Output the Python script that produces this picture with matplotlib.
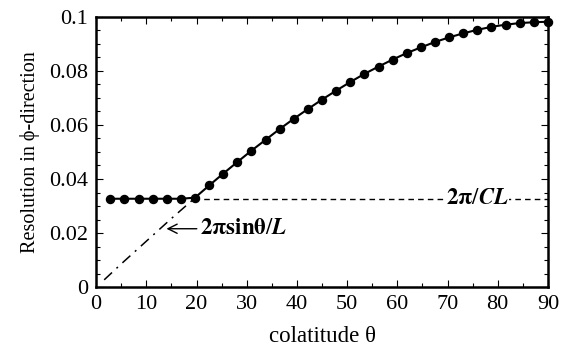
import numpy as np
import matplotlib
matplotlib.use("Agg")
import matplotlib.pyplot as plt
from matplotlib.ticker import MultipleLocator

plt.rcParams["font.family"] = ["Liberation Serif", "DejaVu Serif"]
plt.rcParams["mathtext.fontset"] = "stix"

# resolution in phi-direction vs colatitude (dots + solid line)
theta = [2.81, 5.63, 8.44, 11.25, 14.06, 16.88, 19.69, 22.5, 25.31, 28.13,
         30.94, 33.75, 36.56, 39.38, 42.19, 45.0, 47.81, 50.63, 53.44, 56.25,
         59.06, 61.88, 64.69, 67.5, 70.31, 73.13, 75.94, 78.75, 81.56, 84.38,
         87.19, 90.0]
resolution = [0.0327, 0.0327, 0.0327, 0.0327, 0.0327, 0.0327, 0.0331, 0.0376,
              0.0420, 0.0463, 0.0505, 0.0545, 0.0585, 0.0623, 0.0659, 0.0694,
              0.0727, 0.0759, 0.0789, 0.0816, 0.0842, 0.0866, 0.0887, 0.0907,
              0.0924, 0.0939, 0.0952, 0.0963, 0.0971, 0.0977, 0.0980, 0.0982]

# 2*pi*sin(theta)/L guide (dash-dot)
sin_theta = [1.6, 5.0, 10.0, 15.0, 19.5]
sin_res = [0.0027, 0.0086, 0.0170, 0.0254, 0.0327]

# 2*pi/CL level (dashed)
level_theta = [19.5, 90.0]
level_res = [0.0327, 0.0327]

xticks = [0, 10, 20, 30, 40, 50, 60, 70, 80, 90]
yticks = [0, 0.02, 0.04, 0.06, 0.08, 0.1]
ytick_labels = ["0", "0.02", "0.04", "0.06", "0.08", "0.1"]

fig = plt.figure(figsize=(5.69, 3.51), dpi=100)
ax = fig.add_axes([0.169, 0.182, 0.794, 0.770])

ax.plot(level_theta, level_res, color="black", linewidth=1.0,
        linestyle=(0, (4, 3)))
ax.plot(sin_theta, sin_res, color="black", linewidth=1.1,
        linestyle=(0, (7, 4, 1.3, 4)))
ax.plot(theta, resolution, color="black", linewidth=1.5, marker="o",
        markersize=5.8, clip_on=False, zorder=5)

ax.text(69.6, 0.0327, r"$\mathbf{2\pi}/\boldsymbol{CL}$", fontsize=16.5,
        ha="left", va="center",
        bbox=dict(facecolor="white", edgecolor="none", pad=0.5))
ax.annotate(r"$\mathbf{2\pi sin\theta}/\boldsymbol{L}$", xy=(14.0, 0.0216),
            xytext=(20.6, 0.0216), fontsize=16.5, ha="left", va="center",
            arrowprops=dict(arrowstyle="->", color="black", lw=1.0,
                            shrinkA=0, shrinkB=0))

ax.set_xlim(0, 90)
ax.set_ylim(0, 0.1)
ax.set_xticks(xticks)
ax.set_yticks(yticks)
ax.set_yticklabels(ytick_labels)
ax.xaxis.set_minor_locator(MultipleLocator(5))
ax.yaxis.set_minor_locator(MultipleLocator(0.005))
ax.tick_params(which="both", direction="in", top=True, right=True,
               labelsize=16, pad=6)
ax.tick_params(which="major", length=5, width=0.8)
ax.tick_params(which="minor", length=3, width=0.8)
for sp in ax.spines.values():
    sp.set_linewidth(1.8)

ax.set_xlabel("colatitude θ", fontsize=16.5, labelpad=8)
ax.set_ylabel("Resolution in ϕ-direction", fontsize=14.5, labelpad=6)

fig.savefig("out.png", dpi=100, facecolor="white")
